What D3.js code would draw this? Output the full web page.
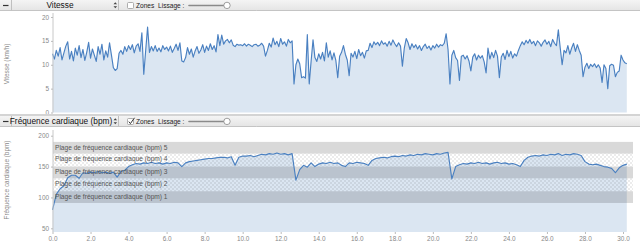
<!DOCTYPE html>
<html><head><meta charset="utf-8">
<script src="https://cdn.jsdelivr.net/npm/d3@7"></script>
<style>html,body{margin:0;padding:0;background:#fff;overflow:hidden}</style>
</head><body><svg id="c" width="640" height="245"></svg>
<script>
// ---- data ----
const speedStep = 0.1; // km between speed samples
const speed = [
12.3,11.2,13.0,11.8,13.6,11.0,12.5,13.9,14.8,11.2,
12.8,10.8,13.5,12.0,14.0,11.5,13.2,10.9,12.6,14.7,
11.4,13.3,12.0,10.7,13.8,12.2,14.3,11.0,12.9,11.6,
14.6,12.0,9.4,8.8,9.2,12.4,13.0,12.2,13.8,12.8,
14.0,13.2,14.2,12.5,13.9,14.4,12.8,16.7,8.0,13.0,
17.9,12.6,13.8,12.9,14.0,12.8,13.5,12.7,14.0,13.2,
13.7,12.9,13.9,12.6,13.4,14.3,13.0,14.6,10.8,10.6,
11.5,13.6,12.2,13.3,11.6,12.9,13.8,12.4,13.1,14.2,
12.6,13.9,13.0,14.4,13.2,14.0,12.7,16.3,14.0,16.2,
14.3,15.0,15.3,14.6,15.2,14.1,13.8,14.3,14.1,14.2,
14.0,14.4,13.9,14.3,14.1,13.8,14.2,14.3,13.9,14.1,
14.5,13.9,11.8,13.0,14.5,13.7,15.6,14.2,14.9,13.8,
15.5,14.3,14.8,13.9,15.3,14.6,15.0,6.0,10.0,11.2,
10.2,7.3,7.5,7.2,16.3,6.0,10.8,15.2,11.5,10.7,
12.3,11.2,12.6,10.8,14.6,11.6,12.9,11.0,12.5,10.9,
7.3,11.8,12.6,14.0,12.2,11.0,7.7,12.4,11.6,12.8,
11.3,13.2,11.9,12.6,11.4,12.9,13.0,14.5,13.6,14.8,
14.2,14.7,14.0,15.0,14.3,14.6,13.9,14.9,14.1,15.2,
14.4,13.8,14.6,13.9,9.7,13.5,15.5,14.6,13.2,14.4,
13.6,14.2,13.3,14.0,13.0,13.8,14.3,13.4,13.9,13.1,
14.0,13.5,14.3,13.7,14.2,14.0,14.5,16.5,13.2,6.0,
12.0,13.0,11.5,10.9,6.7,11.8,12.0,11.2,11.9,10.8,
8.7,11.6,12.3,11.0,12.0,11.4,11.9,10.6,8.3,13.5,
11.2,12.6,11.5,13.0,11.8,7.3,11.6,12.4,11.1,13.0,
11.7,12.8,11.4,12.3,11.8,13.0,14.0,14.8,14.2,15.1,
14.5,15.3,14.4,14.9,14.0,15.0,14.6,13.9,14.7,15.2,
14.3,14.9,13.8,15.3,14.5,14.0,17.3,13.5,10.0,13.0,
12.5,14.0,12.2,13.5,14.5,12.8,14.2,13.0,12.0,7.5,
9.5,10.3,9.2,10.1,9.6,10.2,9.4,10.0,9.3,6.3,
10.0,9.2,5.0,9.8,10.1,9.9,7.5,8.4,8.7,12.0,
11.0,10.4,10.2
];
const hrStep = 0.2; // km between heart-rate samples
const hr = [
80,105,114,119,132,136,136,131,140,139,
141,140,142,140,141,139,141,133,142,144,
150,153,155,154,156,155,157,155,156,154,
156,155,157,156,150,156,158,159,160,161,
162,163,163,164,165,165,164,166,152,165,
167,167,168,166,168,170,169,171,170,172,
170,171,169,171,128,145,152,149,156,150,
154,156,155,157,155,156,152,150,156,155,
157,156,155,152,160,163,164,165,164,166,
167,166,168,167,169,168,170,169,171,170,
169,171,170,172,173,130,150,153,155,154,
156,155,157,155,156,154,156,157,155,156,
154,155,153,150,160,165,167,168,167,169,
168,170,169,171,168,170,169,171,170,168,
158,154,153,154,152,150,149,147,140,148,
152,154
];
const xTicks = [0,2,4,6,8,10,12,14,16,18,20,22,24,26,28,30];
const speedTicks = [0,5,10,15,20];
const hrTicks = [50,100,150,200];
const zoneNames = ["Plage de fréquence cardiaque (bpm) 1","Plage de fréquence cardiaque (bpm) 2",
  "Plage de fréquence cardiaque (bpm) 3","Plage de fréquence cardiaque (bpm) 4","Plage de fréquence cardiaque (bpm) 5"];
const zoneLow = [91,110,131,150,171];
const zoneHigh = [110,131,150,171,190];

// ---- drawing ----
const svg = d3.select("#c");
const FONT = "'Liberation Sans', Arial, sans-serif";
const LINE = "#4a80c1", FILL = "#dbe6f2";
const plotL = 53, plotR = 633;

const defs = svg.append("defs");
const pat = defs.append("pattern").attr("id","chk").attr("width",4).attr("height",4).attr("patternUnits","userSpaceOnUse");
pat.append("rect").attr("x",0).attr("y",0).attr("width",2).attr("height",2).attr("fill","rgba(0,0,0,0.075)");
pat.append("rect").attr("x",2).attr("y",2).attr("width",2).attr("height",2).attr("fill","rgba(0,0,0,0.075)");
const grad = defs.append("linearGradient").attr("id","tb").attr("x1",0).attr("x2",0).attr("y1",0).attr("y2",1);
grad.append("stop").attr("offset","0%").attr("stop-color","#f4f4f4");
grad.append("stop").attr("offset","100%").attr("stop-color","#e4e4e4");

const x = d3.scaleLinear().domain([0,30]).range([52.5,623]);

function toolbar(y0, title, checked){
  const g = svg.append("g").attr("transform",`translate(0,${y0})`);
  g.append("rect").attr("x",0).attr("y",0).attr("width",640).attr("height",11).attr("fill","url(#tb)");
  g.append("line").attr("x1",0).attr("x2",640).attr("y1",10.5).attr("y2",10.5).attr("stroke","#c4c4c4");
  g.append("line").attr("x1",3).attr("x2",8.5).attr("y1",5.5).attr("y2",5.5).attr("stroke","#333").attr("stroke-width",1.2);
  [11.5,118.5].forEach(sx=>g.append("line").attr("x1",sx).attr("x2",sx).attr("y1",0).attr("y2",10.5).attr("stroke","#c0c0c0"));
  g.append("text").attr("x",title==="Vitesse"?60:61).attr("y",8.3).attr("text-anchor","middle")
    .attr("font-family",FONT).attr("font-size",8.3).attr("fill","#111").text(title);
  g.append("path").attr("d","M113.5,4.3 L115.3,2.3 L117.1,4.3 Z M113.5,6.3 L115.3,8.3 L117.1,6.3 Z").attr("fill","#444");
  g.append("rect").attr("x",127.5).attr("y",2.5).attr("width",6).attr("height",6).attr("rx",1)
    .attr("fill","#fff").attr("stroke","#9a9a9a").attr("stroke-width",0.8);
  if(checked) g.append("path").attr("d","M128.8,5.6 L130.4,7.6 L134.5,1.8").attr("fill","none").attr("stroke","#333").attr("stroke-width",1);
  g.append("text").attr("x",136).attr("y",7.8).attr("font-family",FONT).attr("font-size",6.6).attr("fill","#222").text("Zones");
  g.append("text").attr("x",158).attr("y",7.8).attr("font-family",FONT).attr("font-size",6.6).attr("fill","#222").text("Lissage :");
  g.append("line").attr("x1",189).attr("x2",225).attr("y1",5.5).attr("y2",5.5).attr("stroke","#8a8a8a").attr("stroke-width",1.6).attr("stroke-linecap","round");
  g.append("circle").attr("cx",227).attr("cy",5.4).attr("r",3.2).attr("fill","#fff").attr("stroke","#888").attr("stroke-width",0.8);
}

// backgrounds
svg.append("rect").attr("x",0).attr("y",0).attr("width",640).attr("height",245).attr("fill","#fff");

// ---- top chart: speed ----
const yS = d3.scaleLinear().domain([0,20]).range([112.5,17]);
const sData = speed.map((v,i)=>({d:i*speedStep, v}));
svg.append("path").datum(sData).attr("fill",FILL)
  .attr("d", d3.area().x(d=>x(d.d)).y0(yS(0)).y1(d=>yS(d.v)));
svg.append("path").datum(sData).attr("fill","none").attr("stroke",LINE).attr("stroke-width",1.15).attr("stroke-linejoin","round")
  .attr("d", d3.line().x(d=>x(d.d)).y(d=>yS(d.v)));
const axS = svg.append("g").attr("transform",`translate(${plotL},0)`)
  .call(d3.axisLeft(yS).tickValues(speedTicks).tickSize(2).tickPadding(2));
axS.select(".domain").attr("stroke","#c8c8c8").attr("d",`M0,13V${yS(0)}`);
axS.selectAll(".tick line").attr("stroke","#bbb");
axS.selectAll("text").attr("font-family",FONT).attr("font-size",6.4).attr("fill","#888");
svg.append("text").attr("transform","translate(9,64) rotate(-90)").attr("text-anchor","middle")
  .attr("font-family",FONT).attr("font-size",6.4).attr("fill","#888").text("Vitesse (km/h)");

// ---- bottom chart: heart rate ----
const yH = d3.scaleLinear().domain([50,200]).range([228.3,135.7]);
const hBase = yH(44);
const hData = hr.map((v,i)=>({d:i*hrStep, v}));
svg.append("path").datum(hData).attr("fill",FILL)
  .attr("d", d3.area().x(d=>x(d.d)).y0(hBase).y1(d=>yH(d.v)));
const zones = zoneNames.map((n,i)=>({n, lo:zoneLow[i], hi:zoneHigh[i], i}));
svg.selectAll("rect.zone").data(zones).enter().append("rect").attr("class","zone")
  .attr("x",plotL).attr("width",plotR-plotL)
  .attr("y",d=>yH(d.hi)).attr("height",d=>yH(d.lo)-yH(d.hi))
  .attr("fill",d=>d.i%2===0?"rgba(0,0,0,0.15)":"url(#chk)");
svg.append("path").datum(hData).attr("fill","none").attr("stroke",LINE).attr("stroke-width",1.15).attr("stroke-linejoin","round")
  .attr("d", d3.line().x(d=>x(d.d)).y(d=>yH(d.v)));
svg.selectAll("text.zl").data(zones).enter().append("text").attr("class","zl")
  .attr("x",55).attr("y",d=>yH(d.hi)+7.8)
  .attr("font-family",FONT).attr("font-size",6.6).attr("fill","#555").text(d=>d.n);
const axH = svg.append("g").attr("transform",`translate(${plotL},0)`)
  .call(d3.axisLeft(yH).tickValues(hrTicks).tickSize(2).tickPadding(2));
axH.select(".domain").attr("stroke","#c8c8c8").attr("d",`M0,130V${hBase}`);
axH.selectAll(".tick line").attr("stroke","#bbb");
axH.selectAll("text").attr("font-family",FONT).attr("font-size",6.4).attr("fill","#888");
svg.append("text").attr("transform","translate(9,180) rotate(-90)").attr("text-anchor","middle")
  .attr("font-family",FONT).attr("font-size",6.4).attr("fill","#888").text("Fréquence cardiaque (bpm)");
const axX = svg.append("g").attr("transform",`translate(0,${hBase})`)
  .call(d3.axisBottom(x).tickValues(xTicks).tickFormat(d3.format(".1f")).tickSize(2).tickPadding(2));
axX.select(".domain").remove();
axX.selectAll(".tick line").attr("stroke","#bbb");
axX.selectAll("text").attr("font-family",FONT).attr("font-size",6.4).attr("fill","#888");

// toolbars and separators
toolbar(0, "Vitesse", false);
svg.append("rect").attr("x",0).attr("y",114).attr("width",640).attr("height",2).attr("fill","#d4d4d4");
toolbar(116, "Fréquence cardiaque (bpm)", true);
</script></body></html>
